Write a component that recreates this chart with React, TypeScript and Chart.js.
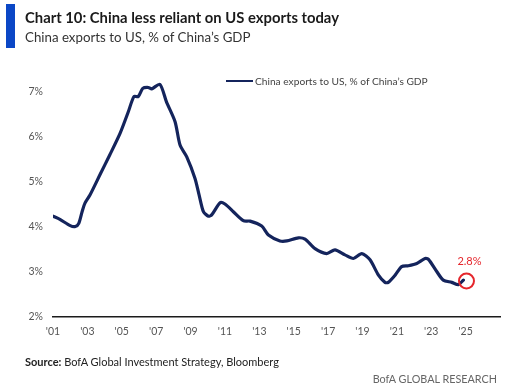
import React, { useEffect, useRef } from 'react';
import { Chart, registerables } from 'chart.js';

Chart.register(...registerables);

// ---- Data ----
const years = [
  2001.0, 2001.4, 2002.0, 2002.3, 2002.5, 2002.7, 2002.86, 2003.15, 2003.73, 2004.3,
  2004.9, 2005.38, 2005.71, 2005.96, 2006.22, 2006.55, 2006.74, 2007.22, 2007.6, 2008.1,
  2008.39, 2008.78, 2009.26, 2009.5, 2009.75, 2010.04, 2010.23, 2010.72, 2011.0, 2011.49,
  2012.07, 2012.46, 2013.14, 2013.53, 2014.2, 2014.6, 2015.27, 2015.66, 2016.24, 2016.92,
  2017.4, 2017.98, 2018.47, 2018.96, 2019.44, 2019.93, 2020.31, 2020.5, 2020.9, 2021.28,
  2021.67, 2022.16, 2022.64, 2022.84, 2023.32, 2023.7, 2024.19, 2024.58, 2024.87,
];
const values = [
  4.24, 4.17, 4.03, 4.01, 4.08, 4.35, 4.53, 4.71, 5.16, 5.6,
  6.08, 6.56, 6.9, 6.9, 7.08, 7.1, 7.07, 7.17, 6.78, 6.34,
  5.82, 5.56, 5.08, 4.71, 4.34, 4.24, 4.27, 4.54, 4.51, 4.34,
  4.14, 4.13, 4.02, 3.82, 3.69, 3.69, 3.76, 3.73, 3.52, 3.41,
  3.49, 3.38, 3.3, 3.41, 3.27, 2.93, 2.77, 2.77, 2.93, 3.12,
  3.14, 3.19, 3.3, 3.28, 3.01, 2.82, 2.77, 2.72, 2.82,
];
const xTickYears = [2001, 2003, 2005, 2007, 2009, 2011, 2013, 2015, 2017, 2019, 2021, 2023, 2025];
const xTickLabels = ["'01", "'03", "'05", "'07", "'09", "'11", "'13", "'15", "'17", "'19", "'21", "'23", "'25"];
const yTickValues = [2, 3, 4, 5, 6, 7];
const yTickLabels = ['2%', '3%', '4%', '5%', '6%', '7%'];
const seriesLabel = "China exports to US, % of China\u2019s GDP";
const latestYear = 2025.05;
const latestValue = 2.8;
const latestLabel = '2.8%';

const NAVY = '#14245c';
const RED = '#e5262c';
const FONT = 'Lato, "Open Sans", sans-serif';

const latestPlugin = {
  id: 'latestMarker',
  afterDatasetsDraw(chart: any) {
    const { ctx, scales } = chart;
    const cx = scales.x.getPixelForValue(latestYear);
    const cy = scales.y.getPixelForValue(latestValue);
    ctx.save();
    ctx.strokeStyle = RED;
    ctx.lineWidth = 2;
    ctx.beginPath();
    ctx.arc(cx, cy, 7.5, 0, Math.PI * 2);
    ctx.stroke();
    ctx.fillStyle = RED;
    ctx.font = `11px ${FONT}`;
    ctx.textAlign = 'center';
    ctx.textBaseline = 'middle';
    ctx.fillText(latestLabel, cx + 3, cy - 20);
    ctx.restore();
  },
};

export default function App() {
  const ref = useRef<HTMLCanvasElement>(null);
  useEffect(() => {
    document.body.style.margin = '0';
    const chart = new Chart(ref.current!, {
      type: 'line',
      data: {
        datasets: [
          {
            label: seriesLabel,
            data: years.map((y, i) => ({ x: y, y: values[i] })),
            borderColor: NAVY,
            borderWidth: 3.2,
            pointRadius: 0,
            tension: 0.25,
            borderJoinStyle: 'round',
            borderCapStyle: 'round',
          } as any,
        ],
      },
      options: {
        animation: false,
        responsive: false,
        layout: { padding: { top: 69.5, right: 6, bottom: 47, left: 0 } },
        plugins: { legend: { display: false }, tooltip: { enabled: false } },
        scales: {
          x: {
            type: 'linear',
            min: 2001,
            max: 2027,
            grid: { display: false, drawTicks: false },
            border: { display: true, color: '#1b1b1b', width: 1.5 },
            afterBuildTicks: (s: any) => {
              s.ticks = xTickYears.map((v) => ({ value: v }));
            },
            afterFit: (s: any) => {
              s.height = 22;
            },
            ticks: {
              autoSkip: false,
              maxRotation: 0,
              padding: 8,
              color: '#555',
              font: { family: FONT, size: 10.5 },
              callback: (_v: any, i: number) => xTickLabels[i],
            },
          },
          y: {
            type: 'linear',
            min: 2,
            max: 7.5,
            grid: { display: false, drawTicks: false },
            border: { display: false },
            afterBuildTicks: (s: any) => {
              s.ticks = yTickValues.map((v) => ({ value: v }));
            },
            afterFit: (s: any) => {
              s.width = 53;
            },
            ticks: {
              padding: 10,
              color: '#555',
              font: { family: FONT, size: 10.5 },
              callback: (_v: any, i: number) => yTickLabels[i],
            },
          },
        },
      } as any,
      plugins: [latestPlugin],
    });
    return () => chart.destroy();
  }, []);

  return (
    <div style={{ position: 'relative', width: 506, height: 386, background: '#fff', overflow: 'hidden', fontFamily: FONT }}>
      <canvas ref={ref} width={506} height={386} style={{ position: 'absolute', left: 0, top: 0, display: 'block' }} />
      <div style={{ position: 'absolute', left: 6, top: 4, width: 9, height: 44, background: '#0b47c6' }} />
      <div style={{ position: 'absolute', left: 25, top: 8, fontSize: 14.8, lineHeight: '18px', fontWeight: 700, color: '#1a1a1a', whiteSpace: 'nowrap' }}>
        Chart 10: China less reliant on US exports today
      </div>
      <div style={{ position: 'absolute', left: 25, top: 29, fontSize: 13.3, lineHeight: '17px', color: '#333', whiteSpace: 'nowrap' }}>
        China exports to US, % of China’s GDP
      </div>
      <div style={{ position: 'absolute', left: 226, top: 79.5, width: 27, height: 2.5, background: NAVY }} />
      <div style={{ position: 'absolute', left: 255, top: 74, fontSize: 10.2, lineHeight: '14px', color: '#444', whiteSpace: 'nowrap' }}>
        {seriesLabel}
      </div>
      <div style={{ position: 'absolute', left: 25, top: 355, fontSize: 11, lineHeight: '14px', color: '#222', whiteSpace: 'nowrap' }}>
        <b>Source:</b> BofA Global Investment Strategy, Bloomberg
      </div>
      <div style={{ position: 'absolute', right: 9, top: 372, fontSize: 10.8, lineHeight: '14px', color: '#666', whiteSpace: 'nowrap' }}>
        BofA GLOBAL RESEARCH
      </div>
    </div>
  );
}
